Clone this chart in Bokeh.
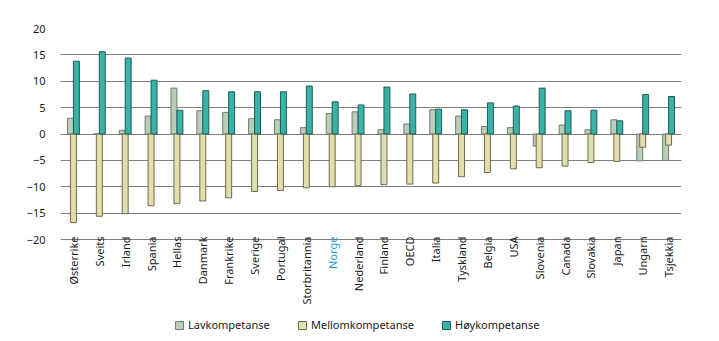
import numpy as np
from bokeh.plotting import figure
from bokeh.models import Range1d, FixedTicker, Legend, LegendItem, ColumnDataSource
from bokeh.core.properties import value
from bokeh.embed import file_html
from bokeh.resources import INLINE

countries = ["Østerrike", "Sveits", "Irland", "Spania", "Hellas", "Danmark", "Frankrike",
             "Sverige", "Portugal", "Storbritannia", "Norge", "Nederland", "Finland", "OECD",
             "Italia", "Tyskland", "Belgia", "USA", "Slovenia", "Canada", "Slovakia", "Japan",
             "Ungarn", "Tsjekkia"]
lav = [3.0, 0.0, 0.7, 3.4, 8.7, 4.4, 4.1, 2.9, 2.7, 1.2, 3.9, 4.2, 0.8, 1.9, 4.6, 3.4,
       1.4, 1.2, -2.3, 1.7, 0.8, 2.7, -5.1, -5.0]
mellom = [-16.8, -15.6, -15.1, -13.6, -13.2, -12.7, -12.1, -10.9, -10.7, -10.2, -10.0, -9.8,
          -9.6, -9.5, -9.3, -8.1, -7.3, -6.6, -6.4, -6.1, -5.4, -5.2, -2.5, -2.1]
hoy = [13.8, 15.6, 14.4, 10.2, 4.5, 8.2, 8.0, 8.0, 8.0, 9.1, 6.1, 5.5, 8.9, 7.6, 4.7, 4.6,
       5.9, 5.3, 8.7, 4.4, 4.5, 2.5, 7.5, 7.1]
series_names = ["Lavkompetanse", "Mellomkompetanse", "Høykompetanse"]
y_ticks = [-20, -15, -10, -5, 0, 5, 10, 15, 20]
highlight = "Norge"

FONT = "Noto Sans"
n = len(countries)
idx = np.arange(n)
W = 0.23

# frame covers the area below the axis too, so that labels and legend are not clipped
TOP_PX, AXIS_PX, BOTTOM_PX = 28, 211, 102
y_min = -20 - 40.0 * BOTTOM_PX / AXIS_PX

p = figure(width=719, height=341, output_backend="svg", toolbar_location=None,
           x_range=Range1d(-0.5, n - 0.5), y_range=Range1d(y_min, 20),
           x_axis_location=None,
           min_border_left=60, min_border_right=38, min_border_top=TOP_PX, min_border_bottom=0)
p.outline_line_color = None
p.background_fill_color = "white"

r_l = p.vbar(x=idx - W / 2, top=lav, bottom=0, width=W, fill_color="#b9cdb8",
             line_color="#6f7f6f", line_width=1)
r_m = p.vbar(x=idx, top=0, bottom=mellom, width=W, fill_color="#e1dfae",
             line_color="#6e6a4c", line_width=1)
r_h = p.vbar(x=idx + W / 2, top=hoy, bottom=0, width=W, fill_color="#39b2a8",
             line_color="#1f5c57", line_width=1)

# y axis and grid
p.yaxis.ticker = FixedTicker(ticks=y_ticks)
p.ygrid.ticker = FixedTicker(ticks=y_ticks)
p.ygrid.grid_line_color = "#7f7f7f"
p.ygrid.grid_line_width = 1
p.xgrid.grid_line_color = None
p.yaxis.axis_line_color = None
p.yaxis.major_tick_line_color = None
p.yaxis.minor_tick_line_color = None
p.yaxis.major_tick_out = 0
p.yaxis.major_label_standoff = 15
p.yaxis.major_label_text_font = FONT
p.yaxis.major_label_text_font_size = "11px"
p.yaxis.major_label_text_color = "#1a1a1a"

# category labels
label_colors = ["#1e9ad6" if c == highlight else "#1a1a1a" for c in countries]
lab_src = ColumnDataSource(dict(x=idx, y=[-20] * n, text=countries, color=label_colors))
p.text(x="x", y="y", text="text", source=lab_src, angle=np.pi / 2, y_offset=-3,
       text_align="right", text_baseline="middle", text_font=value(FONT),
       text_font_size="11px", text_color="color")

# legends (one per item, placed individually)
leg_x = [114, 237, 381]
for r, name, lx in zip([r_l, r_m, r_h], series_names, leg_x):
    lg = Legend(items=[LegendItem(label=name, renderers=[r])], location=(lx, 9),
                orientation="horizontal", glyph_width=10, glyph_height=10,
                label_standoff=4, padding=0, margin=0, border_line_color=None,
                background_fill_alpha=0, label_text_font=FONT, label_text_font_size="11px",
                label_text_color="#1a1a1a", label_height=14)
    p.add_layout(lg, "center")

open("out.html", "w").write(file_html(p, INLINE))
